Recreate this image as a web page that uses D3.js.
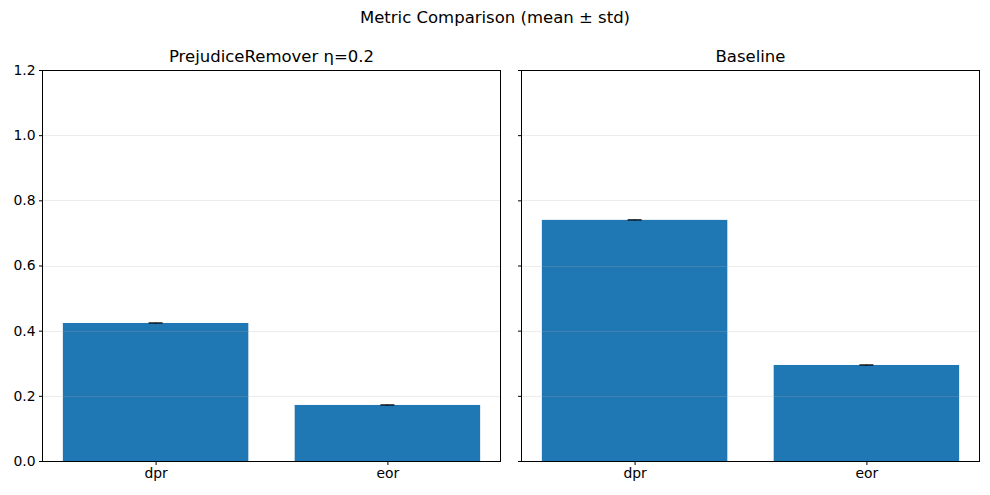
<html>
<head>
<meta charset="utf-8">
<title>Metric Comparison</title>
<style>
body { margin: 0; background: #ffffff; }
text { font-family: "DejaVu Sans", sans-serif; fill: #000; }
</style>
</head>
<body>
<svg width="990" height="495"></svg>
<script src="https://d3js.org/d3.v7.min.js"></script>
<script>
// values
var metrics = ["dpr", "eor"];
var panelTitles = ["PrejudiceRemover \u03b7=0.2", "Baseline"];
var prMeans = [0.4236, 0.1720];
var prStds = [0.001, 0.001];
var baseMeans = [0.7400, 0.2947];
var baseStds = [0.001, 0.001];
var yTicks = [0.0, 0.2, 0.4, 0.6, 0.8, 1.0, 1.2];

var panels = [
  {title: panelTitles[0], means: prMeans, stds: prStds, left: 42, labels: true},
  {title: panelTitles[1], means: baseMeans, stds: baseStds, left: 521, labels: false}
];

var svg = d3.select("svg");
var plotTop = 70, plotBottom = 461, pw = 459;

svg.append("text")
    .attr("x", 495).attr("y", 23)
    .attr("text-anchor", "middle")
    .style("font-size", "16.5px")
    .text("Metric Comparison (mean \u00b1 std)");

var y = d3.scaleLinear().domain([0, 1.2]).range([plotBottom, plotTop]);

panels.forEach(function(p) {
  var g = svg.append("g");
  // matplotlib style: bars of width 0.8 with 5% margins
  var x = d3.scaleLinear().domain([-0.49, 1.49]).range([p.left, p.left + pw]);

  g.selectAll(".bar")
    .data(metrics)
    .enter().append("rect")
      .attr("x", function(d, i) { return x(i - 0.4); })
      .attr("width", function(d, i) { return x(i + 0.4) - x(i - 0.4); })
      .attr("y", function(d, i) { return y(p.means[i]); })
      .attr("height", function(d, i) { return plotBottom - y(p.means[i]); })
      .style("fill", "#1f77b4");

  // grid on top of bars
  g.selectAll(".grid")
    .data(yTicks)
    .enter().append("line")
      .attr("x1", p.left).attr("x2", p.left + pw)
      .attr("y1", function(d) { return Math.round(y(d)) + 0.5; })
      .attr("y2", function(d) { return Math.round(y(d)) + 0.5; })
      .style("stroke", "#b0b0b0").style("stroke-opacity", 0.3).style("stroke-width", 0.8);

  // error bars
  var eb = g.selectAll(".err").data(metrics).enter().append("g");
  eb.append("line")
    .attr("x1", function(d, i) { return x(i); }).attr("x2", function(d, i) { return x(i); })
    .attr("y1", function(d, i) { return y(p.means[i] - p.stds[i]); })
    .attr("y2", function(d, i) { return y(p.means[i] + p.stds[i]); })
    .style("stroke", "#000").style("stroke-width", 1.5);
  eb.append("line")
    .attr("x1", function(d, i) { return x(i) - 7; }).attr("x2", function(d, i) { return x(i) + 7; })
    .attr("y1", function(d, i) { return y(p.means[i]); })
    .attr("y2", function(d, i) { return y(p.means[i]); })
    .style("stroke", "#000").style("stroke-width", 1.5).style("stroke-opacity", 0.85);

  var yAxis = d3.axisLeft(y).tickValues(yTicks).tickSize(3.5).tickPadding(3.5)
    .tickFormat(p.labels ? d3.format(".1f") : function() { return ""; });
  var ya = g.append("g").attr("transform", "translate(" + (p.left + 0.5) + ",0)").call(yAxis);
  ya.select(".domain").remove();

  var xAxis = d3.axisBottom(x).tickValues([0, 1]).tickSize(3.5).tickPadding(3.5)
    .tickFormat(function(d) { return metrics[d]; });
  var xa = g.append("g").attr("transform", "translate(0," + (plotBottom + 0.5) + ")").call(xAxis);
  xa.select(".domain").remove();

  [ya, xa].forEach(function(a) {
    a.selectAll("text").style("font-size", "13.9px").style("font-family", "DejaVu Sans, sans-serif").attr("fill", "#000");
    a.selectAll(".tick line").attr("stroke", "#000").attr("stroke-width", 1);
  });

  g.append("rect")
    .attr("x", p.left + 0.5).attr("y", plotTop + 0.5)
    .attr("width", pw - 1).attr("height", plotBottom - plotTop)
    .style("fill", "none").style("stroke", "#000").style("stroke-width", 1)
    .style("shape-rendering", "crispEdges");

  g.append("text")
    .attr("x", p.left + pw / 2).attr("y", plotTop - 8)
    .attr("text-anchor", "middle")
    .style("font-size", "16.5px")
    .text(p.title);
});
</script>
</body>
</html>
